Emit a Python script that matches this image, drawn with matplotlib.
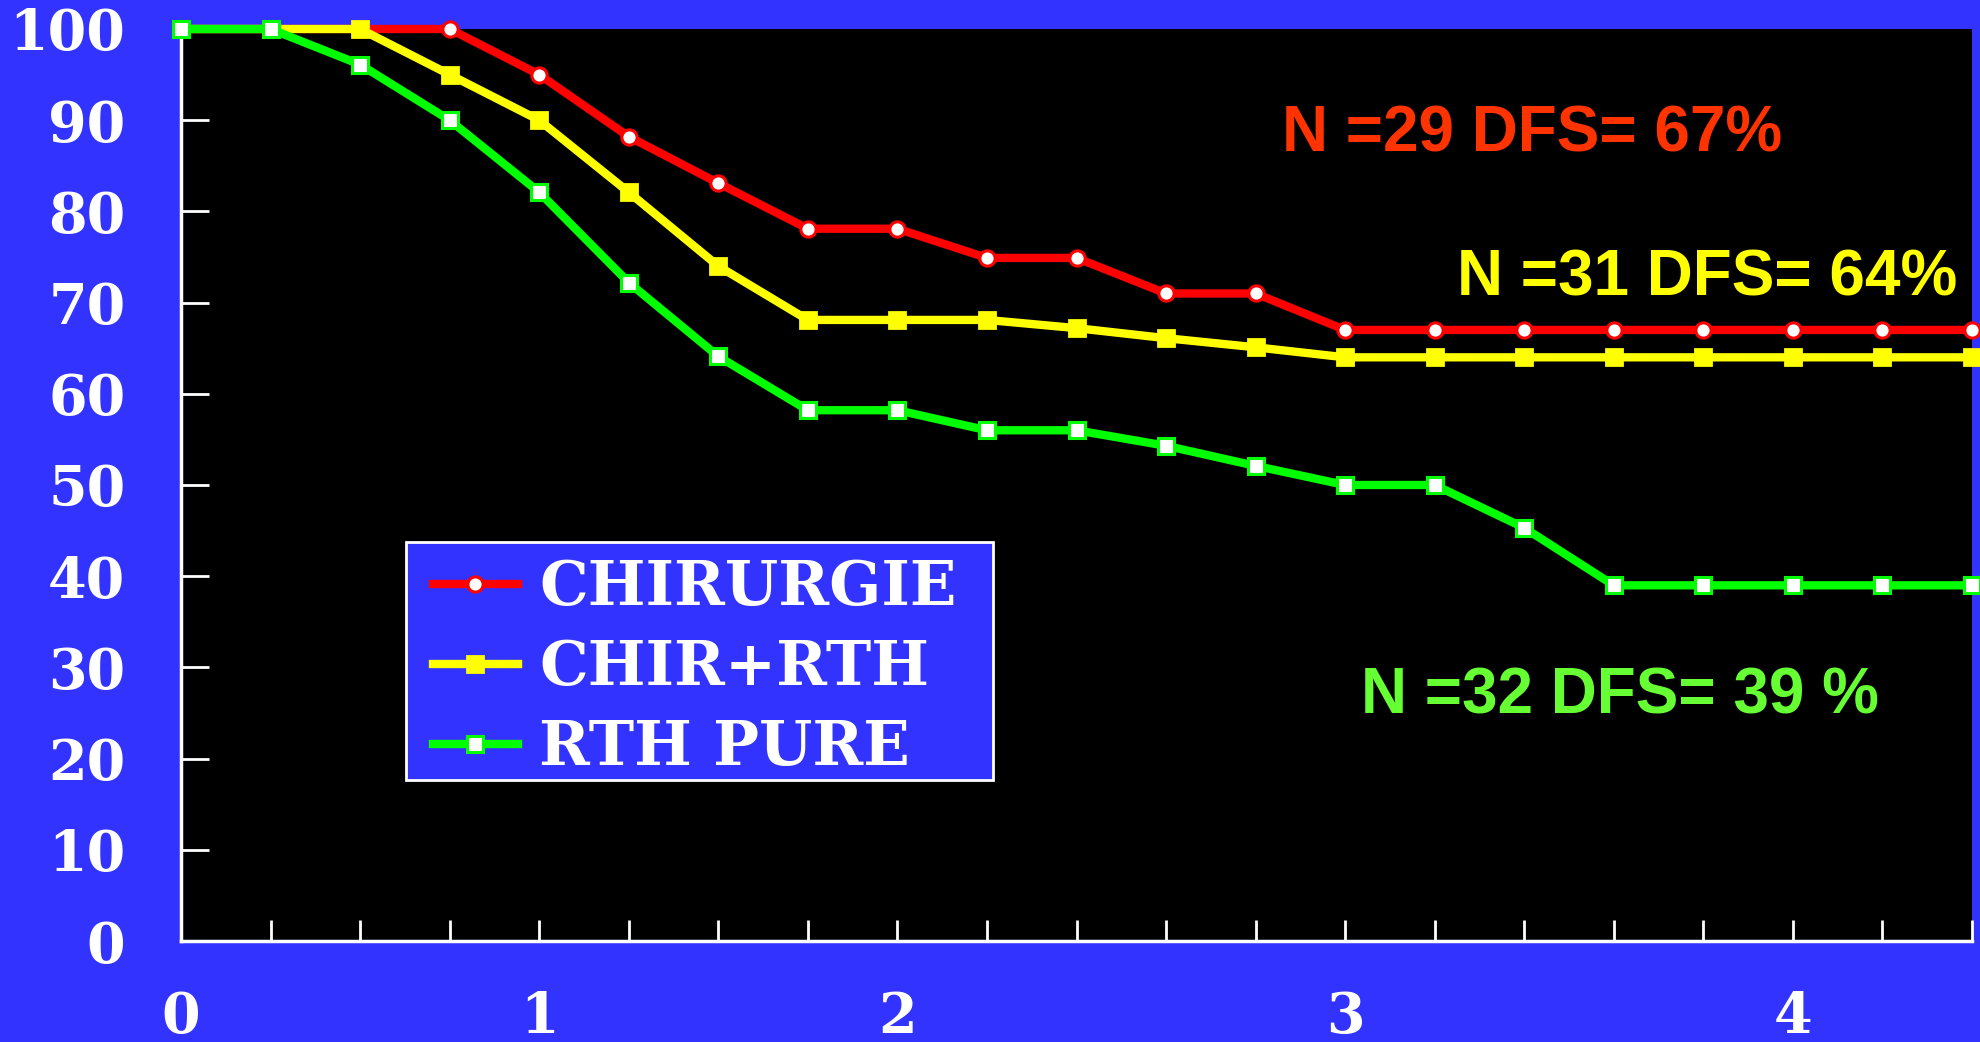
import matplotlib
matplotlib.use("Agg")
import matplotlib.pyplot as plt
from matplotlib.patches import Rectangle

# survie sans maladie, un point par trimestre (21 points)
trimestres = list(range(21))
chirurgie = [100, 100, 100, 100, 95.0, 88.2, 83.1, 78.1, 78.1, 74.9, 74.9,
             71.0, 71.0, 67, 67, 67, 67, 67, 67, 67, 67]
chir_rth = [100, 100, 100, 95.0, 90.0, 82.1, 74.0, 68.1, 68.1, 68.1, 67.2,
            66.1, 65.1, 64, 64, 64, 64, 64, 64, 64, 64]
rth_pure = [100, 100, 96.1, 90.0, 82.1, 72.2, 64.1, 58.2, 58.2, 56.0, 56.0,
            54.3, 52.1, 50.0, 50.0, 45.3, 39, 39, 39, 39, 39]

# etiquettes des annees sous certains traits
annee_pos = [0, 4, 8, 13, 18]
annee_lab = ["0", "1", "2", "3", "4"]
yticks = list(range(0, 101, 10))

bleu = "#3333FF"
W, H = 1981, 1042

fig = plt.figure(figsize=(W/100, H/100), dpi=100, facecolor=bleu)
ax = fig.add_axes([181/W, 1-941/H, (1972-181)/W, (941-29)/H])
ax.set_facecolor("black")

ax.plot(trimestres, chirurgie, color="#FF0000", lw=6, marker="o", ms=11,
        mfc="white", mec="#FF0000", mew=2.2, label="CHIRURGIE", clip_on=False, zorder=3)
ax.plot(trimestres, chir_rth, color="#FFFF00", lw=6, marker="s", ms=12,
        mfc="#FFFF00", mec="#FFFF00", mew=2, label="CHIR+RTH", clip_on=False, zorder=4)
ax.plot(trimestres, rth_pure, color="#00FF00", lw=6, marker="s", ms=12,
        mfc="white", mec="#00FF00", mew=2.2, label="RTH PURE", clip_on=False, zorder=5)

ax.set_xlim(0, 20)
ax.set_ylim(0, 100)

labels = [""] * len(trimestres)
for p, l in zip(annee_pos, annee_lab):
    labels[p] = l
ax.set_xticks(trimestres)
ax.set_xticklabels(labels)
ax.set_yticks(yticks)
ax.set_yticklabels([str(v) for v in yticks])

serif = {"family": "DejaVu Serif", "weight": "bold", "size": 40}
for t in ax.get_xticklabels() + ax.get_yticklabels():
    t.set_fontproperties(matplotlib.font_manager.FontProperties(**serif))
    t.set_color("white")
ax.tick_params(axis="x", direction="in", length=15, width=2, color="white", pad=35)
ax.tick_params(axis="y", direction="in", length=20, width=2, color="white", pad=40)

for s in ["top", "right"]:
    ax.spines[s].set_visible(False)
for s in ["left", "bottom"]:
    ax.spines[s].set_color("white")
    ax.spines[s].set_linewidth(2.5)

# cadre de la legende dessine a part, contenu place dedans
cadre = Rectangle((406/W, 1-780/H), (993-406)/W, (780-542)/H,
                  transform=fig.transFigure, facecolor=bleu, edgecolor="white",
                  lw=2, zorder=6)
ax.add_patch(cadre)
cadre.set_clip_on(False)

leg_font = dict(serif, size=44)
leg = ax.legend(loc="upper left", bbox_to_anchor=(433/W, 1-558/H),
                bbox_transform=fig.transFigure, borderaxespad=0,
                prop=leg_font, frameon=False, handlelength=1.39,
                handletextpad=0.35, labelspacing=0.33, borderpad=0)
leg.set_zorder(7)
for t in leg.get_texts():
    t.set_color("white")

sans = {"family": "Liberation Sans", "weight": "bold", "size": 46}
fig.text(1282/W, 1-135/H, "N =29 DFS= 67%", color="#FF3300",
         ha="left", va="center", **sans)
fig.text(1457/W, 1-279/H, "N =31 DFS= 64%", color="#FFFF00",
         ha="left", va="center", **sans)
fig.text(1361/W, 1-696/H, "N =32 DFS= 39 %", color="#66FF33",
         ha="left", va="center", **sans)

fig.savefig("out.png", dpi=100, facecolor=bleu)
